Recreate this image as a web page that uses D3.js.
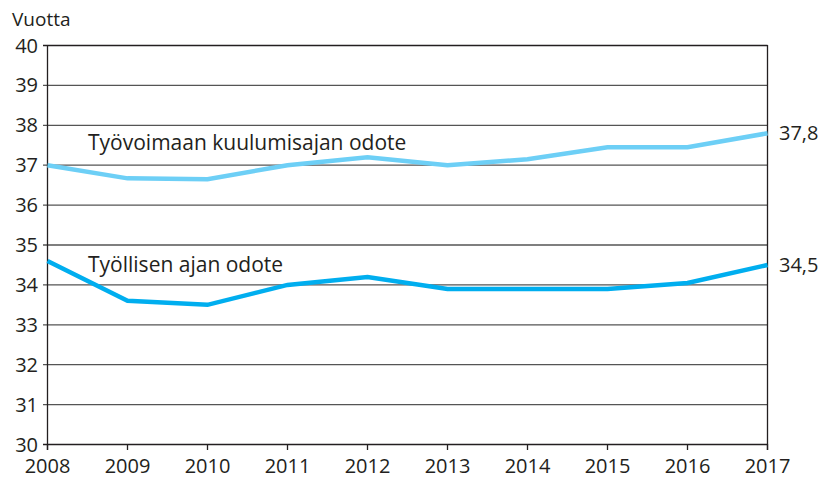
<!DOCTYPE html>
<html>
<head>
<meta charset="utf-8">
<script src="https://cdn.jsdelivr.net/npm/d3@7"></script>
<style>
  body { margin: 0; background: #fff; }
  text { font-family: "Open Sans", "DejaVu Sans", sans-serif; fill: #231f20; }
</style>
</head>
<body>
<svg id="chart" width="825" height="479"></svg>
<script>
'use strict';
var years = [2008, 2009, 2010, 2011, 2012, 2013, 2014, 2015, 2016, 2017];
var tyovoima = [37.0, 36.67, 36.65, 37.0, 37.2, 37.0, 37.15, 37.45, 37.45, 37.8];
var tyollinen = [34.6, 33.6, 33.5, 34.0, 34.2, 33.9, 33.9, 33.9, 34.05, 34.5];
var yTicks = [30, 31, 32, 33, 34, 35, 36, 37, 38, 39, 40];

var svg = d3.select('#chart');
var x = d3.scaleLinear().domain([2008, 2017]).range([47.5, 767.5]);
var y = d3.scaleLinear().domain([30, 40]).range([444.5, 45.5]);

/* gridlines */
svg.selectAll('.grid')
  .data(yTicks)
  .enter()
  .append('line')
  .attr('x1', 43).attr('x2', 767.5)
  .attr('y1', function(d) { return y(d); })
  .attr('y2', function(d) { return y(d); })
  .attr('stroke', function(d) { return (d === 30 || d === 40) ? '#231f20' : '#555'; })
  .attr('stroke-width', 1.3);

/* axes */
svg.append('line')
  .attr('x1', 47.5).attr('x2', 47.5).attr('y1', 45).attr('y2', 450)
  .attr('stroke', '#231f20').attr('stroke-width', 1.3);
svg.append('line')
  .attr('x1', 767.5).attr('x2', 767.5).attr('y1', 45).attr('y2', 450)
  .attr('stroke', '#231f20').attr('stroke-width', 1.3);

svg.selectAll('.xtick')
  .data(years)
  .enter()
  .append('line')
  .attr('x1', function(d) { return x(d); })
  .attr('x2', function(d) { return x(d); })
  .attr('y1', 444).attr('y2', 450)
  .attr('stroke', '#231f20').attr('stroke-width', 1.3);

svg.selectAll('.ylab')
  .data(yTicks)
  .enter()
  .append('text')
  .attr('x', 38)
  .attr('y', function(d) { return y(d) + 7; })
  .attr('text-anchor', 'end')
  .style('font-size', '20px')
  .text(function(d) { return d; });

svg.selectAll('.xlab')
  .data(years)
  .enter()
  .append('text')
  .attr('x', function(d) { return x(d); })
  .attr('y', 473)
  .attr('text-anchor', 'middle')
  .style('font-size', '20px')
  .text(function(d) { return d; });

svg.append('text')
  .attr('x', 12).attr('y', 26)
  .style('font-size', '19px')
  .text('Vuotta');

/* lines */
var line = d3.line()
  .x(function(d, i) { return x(years[i]); })
  .y(function(d) { return y(d); });

svg.append('path')
  .datum(tyovoima)
  .attr('d', line)
  .attr('fill', 'none')
  .attr('stroke', '#6dcff6')
  .attr('stroke-width', 4.5);

svg.append('path')
  .datum(tyollinen)
  .attr('d', line)
  .attr('fill', 'none')
  .attr('stroke', '#00aeef')
  .attr('stroke-width', 4.5);

/* labels */
svg.append('text')
  .attr('x', 88).attr('y', 150)
  .style('font-size', '21px')
  .text('Työvoimaan kuulumisajan odote');
svg.append('text')
  .attr('x', 88).attr('y', 272)
  .style('font-size', '21px')
  .text('Työllisen ajan odote');

svg.append('text')
  .attr('x', 779).attr('y', y(tyovoima[tyovoima.length - 1]) + 7)
  .style('font-size', '20px')
  .text(String(tyovoima[tyovoima.length - 1]).replace('.', ','));
svg.append('text')
  .attr('x', 779).attr('y', y(tyollinen[tyollinen.length - 1]) + 7)
  .style('font-size', '20px')
  .text(String(tyollinen[tyollinen.length - 1]).replace('.', ','));
</script>
</body>
</html>
